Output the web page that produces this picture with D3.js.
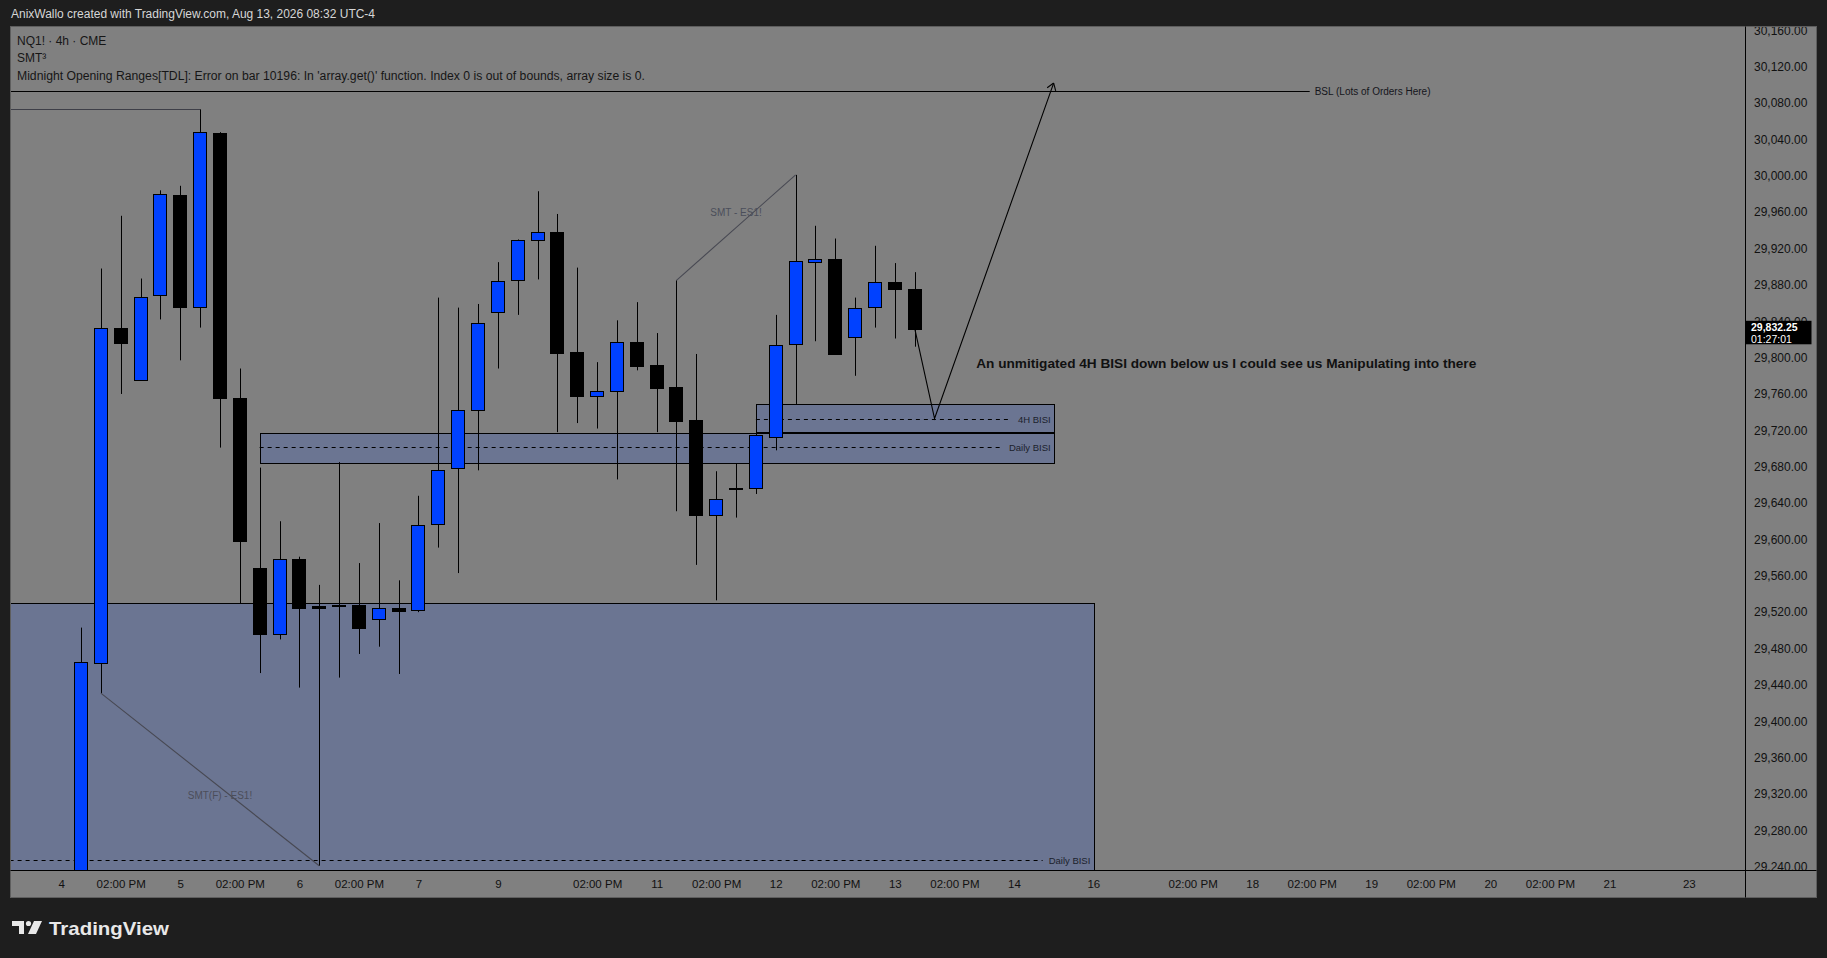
<!DOCTYPE html>
<html>
<head>
<meta charset="utf-8">
<script src="https://cdn.jsdelivr.net/npm/d3@7"></script>
<style>
  html, body { margin:0; padding:0; background:#1e1e1e; overflow:hidden; }
  svg { display:block; font-family:"Liberation Sans", Arial, sans-serif; }
</style>
</head>
<body>
<script>
// NQ1! 4h bars, index 0 = first visible bar
const opens  = [29200,29464,29833,29776,29869,29979,29855,30047,29756,29569,29496,29579,29527,29528,29528,29513,29525,29522,29617,29678,29742,29850,29885,29929,29938,29806,29757,29763,29817,29792,29768,29731,29627,29657,29657,29713,29815,29906,29909,29823,29856,29883,29876];
const highs  = [29503,29898,29956,29887,29984,29989,30073,30048,29788,29679,29620,29581,29550,29685,29574,29618,29555,29648,29866,29855,29859,29905,29930,29983,29958,29899,29795,29841,29861,29827,29885,29804,29675,29683,29716,29847,30001,29945,29931,29866,29923,29904,29894];
const lows   = [29180,29431,29760,29775,29842,29797,29833,29701,29530,29453,29490,29437,29241,29448,29474,29482,29452,29520,29591,29563,29676,29788,29847,29886,29718,29728,29722,29666,29786,29718,29631,29572,29533,29624,29650,29698,29749,29818,29803,29780,29833,29821,29812];
const closes = [29465,29833,29816,29867,29980,29856,30048,29755,29599,29496,29579,29525,29525,29527,29503,29525,29522,29616,29676,29742,29838,29884,29929,29938,29805,29758,29763,29817,29791,29767,29731,29627,29645,29656,29715,29814,29906,29909,29804,29855,29883,29875,29832.25];

// time axis (bar index -> label)
const xTickIdx    = [-1,2,5,8,11,14,17,21,26,29,32,35,38,41,44,47,51,56,59,62,65,68,71,74,77,81];
const xTickLabels = ["4","02:00 PM","5","02:00 PM","6","02:00 PM","7","9","02:00 PM","11","02:00 PM","12","02:00 PM","13","02:00 PM","14","16","02:00 PM","18","02:00 PM","19","02:00 PM","20","02:00 PM","21","23"];
const yTicks = [29240,29280,29320,29360,29400,29440,29480,29520,29560,29600,29640,29680,29720,29760,29800,29840,29880,29920,29960,30000,30040,30080,30120,30160];

// drawn zones
const zoneNames  = ["Daily BISI","Daily BISI","4H BISI"];
const zoneTop    = [29530, 29717.5, 29748.5];
const zoneBottom = [28964, 29685, 29717.5];
const zoneStart  = [-4, 9, 34];
const zoneEnd    = [51, 49, 49];

// smt divergence lines (bar indexes) and their labels
const smtFrom   = [1, 30];
const smtTo     = [12, 36];
const smtLabels = ["SMT(F) - ES1!", "SMT - ES1!"];
const smtLabelIdx   = [7, 33];
const smtLabelPrice = [29318, 29960];

const bslPrice = 30093;
const bslEnd = 61.9;
const projIdx   = [42, 43, 49];
const projPrice = [29832.25, 29733, 30102];
const noteIdx = 45.1, notePrice = 29794;

const W = 1827, H = 958;
const plotL = 10, plotR = 1746, plotT = 27, plotB = 870;

const svg = d3.select("body").append("svg").attr("width",W).attr("height",H);
svg.append("rect").attr("width",W).attr("height",H).attr("fill","#1e1e1e");
svg.append("rect").attr("x",10.5).attr("y",26.5).attr("width",1806).attr("height",871)
   .attr("fill","#808080").attr("stroke","#5e5e5e");

const x = d3.scaleLinear().domain([-1,81]).range([61.15,1688.85]);
const y = d3.scaleLinear().domain([29240,30120]).range([866.7,66.7]);
const px = v => Math.round(v) + 0.5;

const defs = svg.append("defs");
defs.append("clipPath").attr("id","plot").append("rect")
    .attr("x",plotL+1).attr("y",plotT).attr("width",plotR-plotL-1).attr("height",plotB-plotT);
defs.append("clipPath").attr("id","yax").append("rect")
    .attr("x",plotR).attr("y",plotT).attr("width",71).attr("height",plotB-plotT);

const g = svg.append("g").attr("clip-path","url(#plot)");

// zones
const zones = g.selectAll("g.zone").data(zoneNames).enter().append("g").attr("class","zone");
zones.append("rect")
  .attr("x",(d,i)=>px(x(zoneStart[i])))
  .attr("y",(d,i)=>px(y(zoneTop[i])))
  .attr("width",(d,i)=>Math.round(x(zoneEnd[i]) - x(zoneStart[i])))
  .attr("height",(d,i)=>Math.round(y(zoneBottom[i]) - y(zoneTop[i])))
  .attr("fill","#6b7592").attr("stroke","#000").attr("stroke-width",1);
zones.each(function(d,i){
  const mid = px(y((zoneTop[i]+zoneBottom[i])/2));
  const t = d3.select(this).append("text")
    .attr("x",x(zoneEnd[i]) - 3).attr("y",mid).attr("dy","0.35em")
    .attr("text-anchor","end").attr("font-size",9.5).attr("fill","#1b1f2c").text(d);
  const tw = t.node().getComputedTextLength();
  d3.select(this).insert("line","text")
    .attr("x1",x(zoneStart[i])).attr("x2",x(zoneEnd[i]) - tw - 9)
    .attr("y1",mid).attr("y2",mid)
    .attr("stroke","#000").attr("stroke-dasharray","4,4");
});

// prior high line
g.append("line").attr("x1",x(-4)).attr("x2",px(x(6))).attr("y1",px(y(highs[6]))).attr("y2",px(y(highs[6])))
  .attr("stroke","#3e3f48");

// BSL
g.append("line").attr("x1",x(-4)).attr("x2",x(bslEnd)).attr("y1",px(y(bslPrice))).attr("y2",px(y(bslPrice)))
  .attr("stroke","#000");
g.append("text").attr("x",x(bslEnd)+5).attr("y",y(bslPrice)).attr("dy","0.35em")
  .attr("font-size",10).attr("fill","#15161c").text("BSL (Lots of Orders Here)");

// candles
const idx = d3.range(opens.length);
const candles = g.selectAll("g.candle").data(idx).enter().append("g").attr("class","candle");
candles.append("line")
  .attr("x1",i=>px(x(i))).attr("x2",i=>px(x(i)))
  .attr("y1",i=>y(highs[i])).attr("y2",i=>y(lows[i]))
  .attr("stroke","#000");
candles.append("rect")
  .attr("x",i=>Math.round(x(i)) - 6.5)
  .attr("y",i=>Math.round(y(Math.max(opens[i],closes[i]))) + 0.5)
  .attr("width",13)
  .attr("height",i=>Math.max(1, Math.round(Math.abs(y(opens[i]) - y(closes[i])))))
  .attr("fill",i=>closes[i] > opens[i] ? "#0041ff" : "#000")
  .attr("stroke","#000");

// smt lines
g.selectAll("line.smt").data(smtFrom).enter().append("line").attr("class","smt")
  .attr("x1",(d,i)=>x(d)).attr("x2",(d,i)=>x(smtTo[i]))
  .attr("y1",(d,i)=>i===0 ? y(lows[d]) : y(highs[d]))
  .attr("y2",(d,i)=>i===0 ? y(lows[smtTo[i]]) : y(highs[smtTo[i]]))
  .attr("stroke","#474852").attr("stroke-width",1.1);
g.selectAll("text.smt").data(smtLabels).enter().append("text").attr("class","smt")
  .attr("x",(d,i)=>x(smtLabelIdx[i]))
  .attr("y",(d,i)=>y(smtLabelPrice[i]))
  .attr("dy","0.35em").attr("text-anchor","middle")
  .attr("font-size",10).attr("fill","#4b4e5a").text(d=>d);

// projection
const proj = projIdx.map((d,i)=>[x(d), y(projPrice[i])]);
g.append("path").attr("d",d3.line()(proj)).attr("fill","none").attr("stroke","#000").attr("stroke-width",1.1);
const tip = proj[proj.length-1], prev = proj[proj.length-2];
const ang = Math.atan2(tip[1]-prev[1], tip[0]-prev[0]);
[-0.6, 0.6].forEach(a=>{
  g.append("line").attr("x1",tip[0]).attr("y1",tip[1])
    .attr("x2",tip[0] - 8*Math.cos(ang+a)).attr("y2",tip[1] - 8*Math.sin(ang+a))
    .attr("stroke","#000").attr("stroke-width",1.1);
});
g.append("text").attr("x",x(noteIdx)).attr("y",y(notePrice)).attr("dy","0.35em")
  .attr("font-size",13).attr("font-weight","bold").attr("fill","#111")
  .attr("textLength",500).attr("lengthAdjust","spacingAndGlyphs")
  .text("An unmitigated 4H BISI down below us I could see us Manipulating into there");

// axes
const lastY = y(closes[closes.length-1]);
const tagTop = lastY - 7.5;

const yAxis = svg.append("g").attr("clip-path","url(#yax)").append("g").attr("transform",`translate(${plotR},0)`)
  .call(d3.axisRight(y).tickValues(yTicks).tickSize(0).tickPadding(8).tickFormat(d3.format(",.2f")));
yAxis.select(".domain").remove();
yAxis.selectAll("text").attr("font-size",12).attr("fill","#111").attr("font-family","Liberation Sans, Arial, sans-serif");
// tick label partly hidden behind the last price tag
yAxis.selectAll(".tick").filter(d=>Math.abs(y(d) - lastY) < 12).each(function(d){
  const id = "tk" + d;
  defs.append("clipPath").attr("id",id).append("rect")
    .attr("x",-5).attr("y",-20).attr("width",80).attr("height",tagTop - y(d) + 20);
  d3.select(this).select("text").attr("clip-path",`url(#${id})`);
});

const xAxis = svg.append("g").attr("transform",`translate(0,${plotB})`)
  .call(d3.axisBottom(x).tickValues(xTickIdx).tickSize(0).tickPadding(10).tickFormat((d,i)=>xTickLabels[i]));
xAxis.select(".domain").remove();
xAxis.selectAll("text").attr("font-size",11.5).attr("fill","#111").attr("font-family","Liberation Sans, Arial, sans-serif");

svg.append("line").attr("x1",plotR-0.5).attr("x2",plotR-0.5).attr("y1",26.5).attr("y2",897.5).attr("stroke","#000");
svg.append("line").attr("x1",10.5).attr("x2",1816.5).attr("y1",plotB+0.5).attr("y2",plotB+0.5).attr("stroke","#000");

// last price tag
svg.append("rect").attr("x",plotR-0.5).attr("y",tagTop).attr("width",66).attr("height",23.5).attr("fill","#000");
svg.append("text").attr("x",plotR+5).attr("y",lastY-1).attr("dy","0.35em")
  .attr("font-size",10.5).attr("font-weight","bold").attr("fill","#fff")
  .text(d3.format(",.2f")(closes[closes.length-1]));
svg.append("text").attr("x",plotR+5).attr("y",lastY+11).attr("dy","0.35em")
  .attr("font-size",10.5).attr("fill","#fff").text("01:27:01");

// header + legend
svg.append("text").attr("x",11).attr("y",14).attr("dy","0.35em").attr("font-size",12).attr("fill","#d6d6d6")
  .attr("textLength",364).attr("lengthAdjust","spacingAndGlyphs")
  .text("AnixWallo created with TradingView.com, Aug 13, 2026 08:32 UTC-4");
const legend = ["NQ1! · 4h · CME", "SMT³", "Midnight Opening Ranges[TDL]: Error on bar 10196: In 'array.get()' function. Index 0 is out of bounds, array size is 0."];
const legendY = [41, 57.5, 76];
svg.selectAll("text.legend").data(legend).enter().append("text").attr("class","legend")
  .attr("x",17).attr("y",(d,i)=>legendY[i]).attr("dy","0.35em").attr("font-size",12).attr("fill","#161616")
  .each(function(d,i){ if(i===2) d3.select(this).attr("textLength",628).attr("lengthAdjust","spacingAndGlyphs"); })
  .text(d=>d);

// logo
const logo = svg.append("g").attr("fill","#e8e8e8");
logo.append("path").attr("d","M12,921 H24 V934 H19 V926 H12 Z");
logo.append("circle").attr("cx",28.5).attr("cy",923.5).attr("r",2.6);
logo.append("path").attr("d","M34,921 H42 L36,934 H28 Z");
logo.append("text").attr("x",49).attr("y",928).attr("dy","0.35em").attr("font-size",19).attr("font-weight","bold")
  .attr("textLength",120).attr("lengthAdjust","spacingAndGlyphs").text("TradingView");
</script>
</body>
</html>
